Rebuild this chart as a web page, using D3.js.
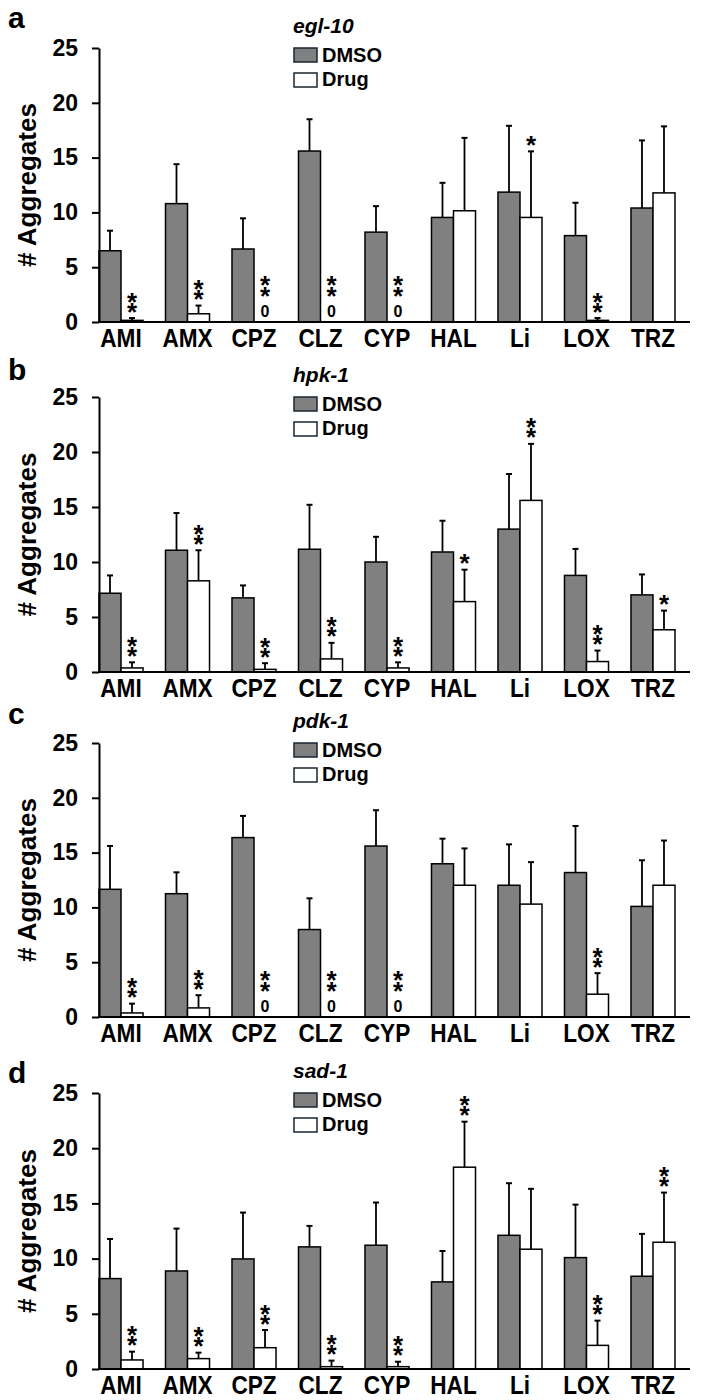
<!DOCTYPE html>
<html>
<head>
<meta charset="utf-8">
<script src="https://cdn.jsdelivr.net/npm/d3@7"></script>
<style>
  body { margin: 0; background: white; }
  text { font-family: "Liberation Sans", Arial, sans-serif; font-weight: bold; }
</style>
</head>
<body>
<div id="container"></div>
<script>
// drugs on the x axis
const categories = ["AMI", "AMX", "CPZ", "CLZ", "CYP", "HAL", "Li", "LOX", "TRZ"];
const genes = ["egl-10", "hpk-1", "pdk-1", "sad-1"];
const letters = ["a", "b", "c", "d"];
const yTicks = [0, 5, 10, 15, 20, 25];

// a: egl-10
const dmsoA    = [6.5, 10.8, 6.66, 15.6, 8.2, 9.54, 11.85, 7.88, 10.4];
const dmsoErrA = [1.83, 3.6, 2.8, 2.9, 2.37, 3.16, 6.05, 3.0, 6.17];
const drugA    = [0.15, 0.75, 0, 0, 0, 10.15, 9.54, 0.15, 11.78];
const drugErrA = [0.21, 0.75, 0, 0, 0, 6.65, 6.03, 0.21, 6.07];
const sigA     = ["**", "**", "**", "**", "**", "", "*", "**", ""];

// b: hpk-1
const dmsoB    = [7.16, 11.07, 6.74, 11.16, 10.0, 10.91, 12.99, 8.78, 7.01];
const dmsoErrB = [1.62, 3.38, 1.13, 4.04, 2.29, 2.84, 5.01, 2.41, 1.86];
const drugB    = [0.37, 8.29, 0.24, 1.19, 0.37, 6.4, 15.6, 0.95, 3.84];
const drugErrB = [0.51, 2.78, 0.56, 1.46, 0.51, 2.9, 5.14, 1.0, 1.74];
const sigB     = ["**", "**", "**", "**", "**", "*", "**", "**", "*"];

// c: pdk-1
const dmsoC    = [11.65, 11.25, 16.37, 7.98, 15.6, 13.98, 12.02, 13.18, 10.09];
const dmsoErrC = [3.95, 1.95, 1.98, 2.85, 3.27, 2.29, 3.73, 4.25, 4.21];
const drugC    = [0.37, 0.83, 0, 0, 0, 12.02, 10.3, 2.08, 12.02];
const drugErrC = [0.85, 1.16, 0, 0, 0, 3.36, 3.83, 1.92, 4.08];
const sigC     = ["**", "**", "**", "**", "**", "", "", "**", ""];

// d: sad-1
const dmsoD    = [8.19, 8.88, 9.97, 11.06, 11.21, 7.89, 12.11, 10.09, 8.4];
const dmsoErrD = [3.59, 3.84, 4.2, 1.9, 3.87, 2.8, 4.72, 4.8, 3.84];
const drugD    = [0.82, 0.94, 1.93, 0.21, 0.21, 18.28, 10.85, 2.14, 11.48];
const drugErrD = [0.75, 0.54, 1.6, 0.55, 0.45, 4.12, 5.47, 2.24, 4.5];
const sigD     = ["**", "**", "**", "**", "**", "**", "", "**", "**"];

const panels = [
    {dmso: dmsoA, dmsoErr: dmsoErrA, drug: drugA, drugErr: drugErrA, sig: sigA},
    {dmso: dmsoB, dmsoErr: dmsoErrB, drug: drugB, drugErr: drugErrB, sig: sigB},
    {dmso: dmsoC, dmsoErr: dmsoErrC, drug: drugC, drugErr: drugErrC, sig: sigC},
    {dmso: dmsoD, dmsoErr: dmsoErrD, drug: drugD, drugErr: drugErrD, sig: sigD}
];

// layout of the four stacked panels
const panelTop = [48, 397, 743, 1093];
const panelBottom = [322, 672, 1017, 1369];
const letterBase = [28, 380, 724, 1083];
const axisX = 99;
const grey = "#808080";
const starSize = 26;

let svg = d3.select("#container").append("svg")
    .attr("width", 702)
    .attr("height", 1400)
    .style("background-color", "white");

let x = d3.scaleBand().domain(categories).range([axisX, 675]).paddingInner(0.338).paddingOuter(0);
let xSub = d3.scaleBand().domain(["DMSO", "Drug"]).range([0, x.bandwidth()]);

panels.forEach(function(p, i) {
    let y = d3.scaleLinear().domain([0, 25]).range([panelBottom[i], panelTop[i]]);
    let g = svg.append("g");

    let rows = [];
    categories.forEach(function(c, j) {
        rows.push({cat: c, kind: "DMSO", v: p.dmso[j], e: p.dmsoErr[j], sig: ""});
        rows.push({cat: c, kind: "Drug", v: p.drug[j], e: p.drugErr[j], sig: p.sig[j]});
    });
    let cx = d => x(d.cat) + xSub(d.kind) + xSub.bandwidth() / 2;

    // error bars (upper only)
    let withErr = rows.filter(d => d.e > 0);
    g.selectAll(".err").data(withErr).enter().append("line")
        .attr("x1", cx).attr("x2", cx)
        .attr("y1", d => y(d.v)).attr("y2", d => y(d.v + d.e))
        .attr("stroke", "black").attr("stroke-width", 1.8);
    g.selectAll(".cap").data(withErr).enter().append("line")
        .attr("x1", d => cx(d) - 3).attr("x2", d => cx(d) + 3)
        .attr("y1", d => y(d.v + d.e)).attr("y2", d => y(d.v + d.e))
        .attr("stroke", "black").attr("stroke-width", 2);

    // bars
    g.selectAll(".bar").data(rows.filter(d => d.v > 0)).enter().append("rect")
        .attr("x", d => x(d.cat) + xSub(d.kind))
        .attr("y", d => y(d.v))
        .attr("width", xSub.bandwidth())
        .attr("height", d => y(0) - y(d.v))
        .attr("fill", d => d.kind === "DMSO" ? grey : "white")
        .attr("stroke", "black")
        .attr("stroke-width", 1.5);

    // significance stars stacked vertically: the run is turned 90deg and
    // each glyph is turned back upright, so one text holds the whole stack
    g.selectAll(".sig").data(rows.filter(d => d.sig)).enter().append("text")
        .attr("transform", function(d) {
            let anchor = d.v === 0 ? y(0) - 20 : y(d.v + d.e);
            let mid = anchor - 10.5 - (d.sig.length - 1) * 5;
            return "translate(" + cx(d) + "," + (mid + 18.1) + ") rotate(90)";
        })
        .attr("y", 5.07)
        .attr("rotate", "-90")
        .attr("text-anchor", "middle")
        .attr("font-size", starSize)
        .text(d => d.sig);

    // "0" for empty drug bars
    g.selectAll(".zero").data(rows.filter(d => d.kind === "Drug" && d.v === 0)).enter().append("text")
        .attr("x", cx)
        .attr("y", y(0) - 5)
        .attr("text-anchor", "middle")
        .attr("font-size", 16)
        .text("0");

    // y axis
    let yAxis = g.append("g")
        .attr("transform", "translate(" + axisX + ",0)")
        .call(d3.axisLeft(y).tickValues(yTicks).tickSize(7).tickSizeOuter(0).tickPadding(14));
    yAxis.select(".domain").attr("stroke-width", 2);
    yAxis.selectAll(".tick line").attr("stroke-width", 2);
    yAxis.selectAll(".tick text")
        .attr("font-size", 23)
        .attr("font-family", "'Liberation Sans', Arial, sans-serif")
        .attr("font-weight", "bold")
        .attr("fill", "black");

    // x baseline
    g.append("line")
        .attr("x1", axisX - 1).attr("x2", 690)
        .attr("y1", y(0)).attr("y2", y(0))
        .attr("stroke", "black").attr("stroke-width", 2);

    // x labels
    g.selectAll(".xlab").data(categories).enter().append("text")
        .attr("transform", c => "translate(" + (x(c) + x.bandwidth() / 2) + "," + (y(0) + 25) + ") scale(0.87,1)")
        .attr("text-anchor", "middle")
        .attr("font-size", 26)
        .text(c => c);

    // y label
    g.append("text")
        .attr("transform", "translate(36," + (y(0) + y(25)) / 2 + ") rotate(-90)")
        .attr("text-anchor", "middle")
        .attr("font-size", 26)
        .text("# Aggregates");

    // panel letter
    g.append("text")
        .attr("x", 8).attr("y", letterBase[i])
        .attr("font-size", 30)
        .text(letters[i]);

    // legend
    let top = y(25);
    g.append("text")
        .attr("x", 293).attr("y", top - 15)
        .attr("font-size", 21)
        .attr("font-style", "italic")
        .text(genes[i]);
    [["DMSO", grey], ["Drug", "white"]].forEach(function(item, k) {
        g.append("rect")
            .attr("x", 294).attr("y", top + k * 25)
            .attr("width", 23).attr("height", 14)
            .attr("fill", item[1])
            .attr("stroke", "#1a2530")
            .attr("stroke-width", 1.5);
        g.append("text")
            .attr("x", 322).attr("y", top + 14 + k * 24)
            .attr("font-size", 20)
            .text(item[0]);
    });
});
</script>
</body>
</html>
